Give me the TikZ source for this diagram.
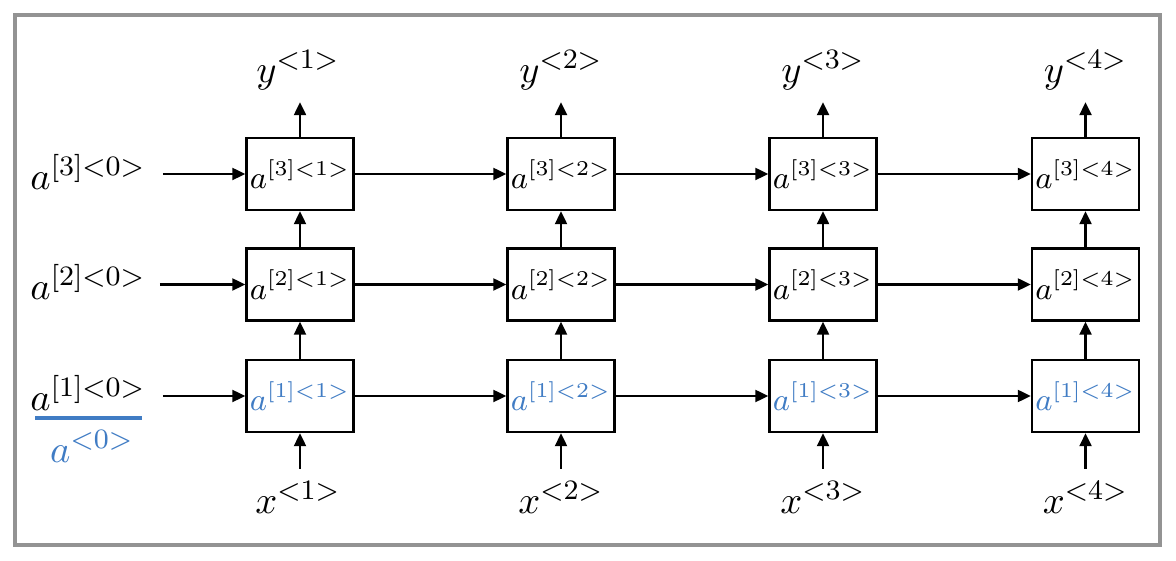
\documentclass[tikz,border=0pt]{standalone}
\usepackage{amsmath}
\usepackage{tikz}
\usetikzlibrary{arrows.meta}
\definecolor{inkblue}{RGB}{64,124,196}

\begin{document}
\begin{tikzpicture}[
	cell/.style = {draw, line width=0.7pt, minimum width=1.07cm, minimum height=0.72cm, inner sep=0pt, font=\fontsize{8.7}{10}\selectfont},
	ink/.style = {text=inkblue},
	link/.style = {line width=0.65pt, -{Triangle[length=1.3mm, width=1.2mm]}},
	lbl/.style = {font=\fontsize{11}{13}\selectfont}
]
	\useasboundingbox (0,0) rectangle (11.76,-5.61);
	\draw[gray!85, line width=1pt] (0.15,-0.15) rectangle (11.6,-5.45);

	% layer 3
	\node[cell] (a31) at (3.00,-1.74) {$a^{[3]<1>}$};
	\node[cell] (a32) at (5.61,-1.74) {$a^{[3]<2>}$};
	\node[cell] (a33) at (8.23,-1.74) {$a^{[3]<3>}$};
	\node[cell] (a34) at (10.855,-1.74) {$a^{[3]<4>}$};
	% layer 2
	\node[cell] (a21) at (3.00,-2.845) {$a^{[2]<1>}$};
	\node[cell] (a22) at (5.61,-2.845) {$a^{[2]<2>}$};
	\node[cell] (a23) at (8.23,-2.845) {$a^{[2]<3>}$};
	\node[cell] (a24) at (10.855,-2.845) {$a^{[2]<4>}$};
	% layer 1, written by hand
	\node[cell, ink] (a11) at (3.00,-3.96) {$a^{[1]<1>}$};
	\node[cell, ink] (a12) at (5.61,-3.96) {$a^{[1]<2>}$};
	\node[cell, ink] (a13) at (8.23,-3.96) {$a^{[1]<3>}$};
	\node[cell, ink] (a14) at (10.855,-3.96) {$a^{[1]<4>}$};

	\node[lbl] (y1) at (2.98,-0.70) {$y^{<1>}$};
	\node[lbl] (y2) at (5.61,-0.70) {$y^{<2>}$};
	\node[lbl] (y3) at (8.23,-0.70) {$y^{<3>}$};
	\node[lbl] (y4) at (10.855,-0.70) {$y^{<4>}$};
	\node[lbl] (x1) at (2.98,-4.97) {$x^{<1>}$};
	\node[lbl] (x2) at (5.61,-4.97) {$x^{<2>}$};
	\node[lbl] (x3) at (8.23,-4.97) {$x^{<3>}$};
	\node[lbl] (x4) at (10.855,-4.97) {$x^{<4>}$};

	\node[lbl] (a30) at (0.88,-1.72) {$a^{[3]<0>}$};
	\node[lbl] (a20) at (0.88,-2.82) {$a^{[2]<0>}$};
	\node[lbl] (a10) at (0.88,-3.93) {$a^{[1]<0>}$};
	\draw[inkblue, line width=0.9pt] (0.35,-4.18) -- (1.42,-4.18);
	\node[lbl, ink] (a0) at (0.92,-4.46) {$a^{<0>}$};

	\draw[link, shorten <=0.5mm] (a30.east |- a31) -- (a31.west);
	\draw[link, shorten <=0.2mm] (a20.east |- a21) -- (a21.west);
	\draw[link, shorten <=0.5mm] (a10.east |- a11) -- (a11.west);

	\draw[link] (a31) -- (a32);
	\draw[link] (a32) -- (a33);
	\draw[link] (a33) -- (a34);
	\draw[link] (a21) -- (a22);
	\draw[link] (a22) -- (a23);
	\draw[link] (a23) -- (a24);
	\draw[link] (a11) -- (a12);
	\draw[link] (a12) -- (a13);
	\draw[link] (a13) -- (a14);

	\draw[link] (a11) -- (a21);
	\draw[link] (a12) -- (a22);
	\draw[link] (a13) -- (a23);
	\draw[link] (a14) -- (a24);
	\draw[link] (a21) -- (a31);
	\draw[link] (a22) -- (a32);
	\draw[link] (a23) -- (a33);
	\draw[link] (a24) -- (a34);

	\draw[link] (a31.north) -- (y1.south -| a31.north);
	\draw[link] (a32.north) -- (y2.south -| a32.north);
	\draw[link] (a33.north) -- (y3.south -| a33.north);
	\draw[link] (a34.north) -- (y4.south -| a34.north);
	\draw[link] (x1.north -| a11.south) -- (a11.south);
	\draw[link] (x2.north -| a12.south) -- (a12.south);
	\draw[link] (x3.north -| a13.south) -- (a13.south);
	\draw[link] (x4.north -| a14.south) -- (a14.south);
\end{tikzpicture}
\end{document}
